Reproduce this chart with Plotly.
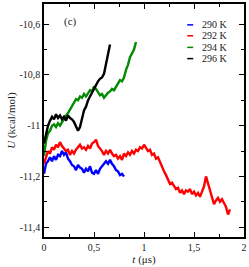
import numpy as np
import plotly.graph_objects as go

series_names = ["290 K", "292 K", "294 K", "296 K"]
series_colors = ["#0000ff", "#ff0000", "#008b00", "#000000"]

u_290 = [-11.19, -11.15, -11.14, -11.125, -11.14, -11.12, -11.135, -11.115, -11.12, -11.10,
         -11.115, -11.105, -11.13, -11.14, -11.155, -11.16, -11.175, -11.155, -11.165, -11.17,
         -11.185, -11.17, -11.18, -11.16, -11.185, -11.19, -11.175, -11.19, -11.17, -11.16,
         -11.15, -11.14, -11.15, -11.135, -11.15, -11.16, -11.175, -11.18, -11.195, -11.19, -11.20]

u_292 = [-11.15, -11.12, -11.10, -11.11, -11.085, -11.095, -11.075, -11.085, -11.065, -11.08,
         -11.09, -11.10, -11.095, -11.115, -11.10, -11.11, -11.095, -11.085, -11.075, -11.09,
         -11.085, -11.095, -11.08, -11.09, -11.07, -11.065, -11.055, -11.08, -11.09, -11.10,
         -11.115, -11.10, -11.11, -11.095, -11.11, -11.12, -11.115, -11.13, -11.12, -11.135,
         -11.11, -11.12, -11.105, -11.115, -11.10, -11.11, -11.095, -11.10, -11.085, -11.09,
         -11.075, -11.09, -11.10, -11.095, -11.115, -11.11, -11.13, -11.125, -11.145, -11.16,
         -11.18, -11.195, -11.21, -11.23, -11.225, -11.24, -11.25, -11.245, -11.265, -11.255,
         -11.27, -11.255, -11.26, -11.25, -11.27, -11.26, -11.275, -11.265, -11.28, -11.26,
         -11.24, -11.20, -11.23, -11.26, -11.29, -11.31, -11.295, -11.285, -11.30, -11.29,
         -11.305, -11.32, -11.35, -11.33]

u_294 = [-11.12, -11.06, -11.03, -11.02, -11.00, -10.995, -11.005, -10.99, -11.00, -10.985,
         -10.975, -10.96, -10.95, -10.935, -10.92, -10.905, -10.895, -10.90, -10.885, -10.89,
         -10.875, -10.885, -10.87, -10.86, -10.865, -10.845, -10.855, -10.87, -10.88, -10.875,
         -10.89, -10.88, -10.87, -10.865, -10.855, -10.86, -10.845, -10.835, -10.82, -10.825,
         -10.81, -10.78, -10.76, -10.73, -10.715, -10.70, -10.67]

u_296 = [-11.07, -11.03, -11.00, -10.98, -10.965, -10.975, -10.955, -10.97, -10.96, -10.975,
         -10.965, -10.98, -10.96, -10.97, -10.975, -10.985, -11.00, -11.02, -11.005, -10.97,
         -10.94, -10.925, -10.90, -10.885, -10.87, -10.85, -10.84, -10.825, -10.815, -10.81,
         -10.795, -10.76, -10.72, -10.68]

t_step = 0.02
series_values = [u_290, u_292, u_294, u_296]

x_tickvals = [0, 0.5, 1, 1.5, 2]
x_ticktext = ["0", "0,5", "1", "1,5", "2"]
y_tickvals = [-11.4, -11.2, -11.0, -10.8, -10.6]
y_ticktext = ["-11,4", "-11,2", "-11", "-10,8", "-10,6"]

fig = go.Figure()
for name, color, vals in zip(series_names, series_colors, series_values):
    t = np.arange(len(vals)) * t_step
    fig.add_trace(go.Scatter(x=t, y=vals, mode="lines", name=name,
                             line=dict(color=color, width=2.4), showlegend=False))

FONT = "Liberation Serif"
TXT = "#222222"
axis_common = dict(showgrid=False, zeroline=False, showline=True, linecolor="black",
                   linewidth=1.5, mirror="allticks", ticks="inside", ticklen=5,
                   tickwidth=1, tickcolor="black",
                   tickfont=dict(family=FONT, size=10, color=TXT))

fig.update_xaxes(range=[0, 2], tickvals=x_tickvals, ticktext=x_ticktext,
                 minor=dict(ticks="inside", ticklen=3, dtick=0.25, tick0=0, tickcolor="black"),
                 title=dict(text="<i>t</i> (μs)", font=dict(family=FONT, size=11, color=TXT),
                            standoff=2),
                 **axis_common)
fig.update_yaxes(range=[-11.439, -10.52], tickvals=y_tickvals, ticktext=y_ticktext,
                 minor=dict(ticks="inside", ticklen=3, dtick=0.1, tick0=-11.4, tickcolor="black"),
                 title=dict(text="<i>U</i> (kcal/mol)", font=dict(family=FONT, size=11, color=TXT),
                            standoff=2),
                 **axis_common)

# panel label
fig.add_annotation(x=0.26, y=-10.59, xref="x", yref="y", text="(c)", showarrow=False,
                   font=dict(family=FONT, size=11, color=TXT))

# manual legend
legend_rows = [0.9105, 0.8637, 0.8138, 0.7656]
for name, color, yy in zip(series_names, series_colors, legend_rows):
    fig.add_shape(type="line", xref="paper", yref="paper", x0=0.716, x1=0.746, y0=yy, y1=yy,
                  line=dict(color=color, width=1.5))
    fig.add_annotation(x=0.78, y=yy, xref="paper", yref="paper", text=name, showarrow=False,
                       xanchor="left", yanchor="middle",
                       font=dict(family=FONT, size=10, color=TXT))

fig.update_layout(width=249, height=267, margin=dict(l=44, r=4, t=2, b=30),
                  paper_bgcolor="white", plot_bgcolor="white", showlegend=False)

fig.write_html("out.html", config={"displayModeBar": False},
               post_script="document.body.style.margin='0';")
